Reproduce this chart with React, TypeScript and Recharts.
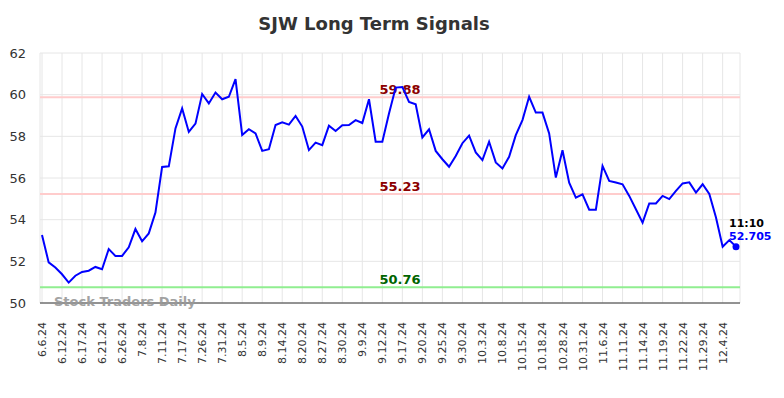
import React from "react";
import {
  LineChart,
  Line,
  XAxis,
  YAxis,
  CartesianGrid,
  ReferenceLine,
} from "recharts";

// trading dates (every third one is shown on the axis)
const dates = [
  "6.6.24", "6.7.24", "6.10.24", "6.12.24", "6.13.24", "6.14.24", "6.17.24", "6.18.24", "6.20.24",
  "6.21.24", "6.24.24", "6.25.24", "6.26.24", "7.1.24", "7.5.24", "7.8.24", "7.9.24", "7.10.24",
  "7.11.24", "7.12.24", "7.15.24", "7.17.24", "7.19.24", "7.23.24", "7.26.24", "7.29.24", "7.30.24",
  "7.31.24", "8.1.24", "8.2.24", "8.5.24", "8.6.24", "8.8.24", "8.9.24", "8.12.24", "8.13.24",
  "8.14.24", "8.15.24", "8.19.24", "8.20.24", "8.22.24", "8.26.24", "8.27.24", "8.28.24", "8.29.24",
  "8.30.24", "9.4.24", "9.6.24", "9.9.24", "9.10.24", "9.11.24", "9.12.24", "9.13.24", "9.16.24",
  "9.17.24", "9.18.24", "9.19.24", "9.20.24", "9.23.24", "9.24.24", "9.25.24", "9.26.24", "9.27.24",
  "9.30.24", "10.1.24", "10.2.24", "10.3.24", "10.4.24", "10.7.24", "10.8.24", "10.10.24", "10.11.24",
  "10.15.24", "10.16.24", "10.17.24", "10.18.24", "10.22.24", "10.25.24", "10.28.24", "10.29.24", "10.30.24",
  "10.31.24", "11.1.24", "11.4.24", "11.6.24", "11.7.24", "11.8.24", "11.11.24", "11.12.24", "11.13.24",
  "11.14.24", "11.15.24", "11.18.24", "11.19.24", "11.20.24", "11.21.24", "11.22.24", "11.25.24", "11.26.24",
  "11.29.24", "12.2.24", "12.3.24", "12.4.24", "12.5.24", "12.6.24",
];

const prices = [
  53.26, 51.95, 51.7, 51.38, 50.98, 51.31, 51.49, 51.55, 51.73,
  51.62, 52.59, 52.26, 52.26, 52.67, 53.55, 52.96, 53.34, 54.34,
  56.53, 56.56, 58.38, 59.34, 58.21, 58.61, 60.03, 59.58, 60.1,
  59.78, 59.9, 60.75, 58.06, 58.34, 58.14, 57.3, 57.38, 58.54,
  58.67, 58.56, 58.98, 58.47, 57.34, 57.7, 57.58, 58.51, 58.26,
  58.53, 58.54, 58.78, 58.64, 59.78, 57.74, 57.74, 59.1, 60.34,
  60.37, 59.65, 59.54, 57.95, 58.34, 57.3, 56.9, 56.54, 57.06,
  57.67, 58.03, 57.23, 56.86, 57.74, 56.75, 56.46, 57.02, 58.06,
  58.78, 59.9, 59.14, 59.14, 58.14, 56.02, 57.33, 55.78, 55.06,
  55.22, 54.48, 54.48, 56.58, 55.86, 55.78, 55.7, 55.14, 54.5,
  53.86, 54.78, 54.78, 55.14, 54.99, 55.38, 55.74, 55.79, 55.3,
  55.7, 55.23, 54.1, 52.7, 53.02, 52.705,
];

const tickDates = [
  "6.6.24", "6.12.24", "6.17.24", "6.21.24", "6.26.24", "7.8.24", "7.11.24", "7.17.24", "7.26.24",
  "7.31.24", "8.5.24", "8.9.24", "8.14.24", "8.20.24", "8.27.24", "8.30.24", "9.9.24", "9.12.24",
  "9.17.24", "9.20.24", "9.25.24", "9.30.24", "10.3.24", "10.8.24", "10.15.24", "10.18.24", "10.28.24",
  "10.31.24", "11.6.24", "11.11.24", "11.14.24", "11.19.24", "11.22.24", "11.29.24", "12.4.24",
];

const yTicks = [50, 52, 54, 56, 58, 60, 62];

const upperLevel = 59.88;
const middleLevel = 55.23;
const lowerLevel = 50.76;
const lastTime = "11:10";
const lastLabel = "52.705";

const data = dates.map((date, i) => ({ date, price: prices[i] }));

const FONT = "'DejaVu Sans', sans-serif";

function DateTick({ x, y, payload }: any) {
  const ty = y + 11;
  return (
    <text
      x={x}
      y={ty}
      transform={`rotate(-90, ${x}, ${ty})`}
      textAnchor="end"
      dy={4}
      fontSize={11}
      fill="#333"
      fontFamily={FONT}
    >
      {payload.value}
    </text>
  );
}

function levelLabel(value: string, color: string) {
  return ({ viewBox }: any) => (
    <text
      x={viewBox.x + 360}
      y={viewBox.y - 3}
      textAnchor="middle"
      fontSize={13}
      fontWeight="bold"
      fill={color}
      fontFamily={FONT}
    >
      {value}
    </text>
  );
}

function LastDot(props: any) {
  const { cx, cy, index } = props;
  if (index !== prices.length - 1) return <g key={index} />;
  return (
    <g key={index}>
      <circle cx={cx} cy={cy} r={3.5} fill="#0000ff" />
      <text x={cx - 7} y={cy - 20} fontSize={11} fontWeight="bold" fill="#000" fontFamily={FONT}>
        {lastTime}
      </text>
      <text x={cx - 7} y={cy - 7} fontSize={11} fontWeight="bold" fill="#0000ff" fontFamily={FONT}>
        {lastLabel}
      </text>
    </g>
  );
}

export default function App() {
  return (
    <div style={{ position: "absolute", left: 0, top: 0, width: 784, height: 398, fontFamily: FONT }}>
      <div
        style={{
          position: "absolute",
          left: 0,
          width: 748,
          top: 13,
          textAlign: "center",
          fontSize: 18,
          fontWeight: "bold",
          color: "#333",
        }}
      >
        SJW Long Term Signals
      </div>
      <LineChart
        width={784}
        height={398}
        data={data}
        margin={{ top: 53, right: 44, bottom: 0, left: 0 }}
      >
        <CartesianGrid stroke="#e6e6e6" strokeWidth={1} />
        <XAxis
          dataKey="date"
          ticks={tickDates}
          interval={0}
          height={95}
          padding={{ left: 2, right: 4 }}
          tick={<DateTick />}
          tickLine={false}
          axisLine={{ stroke: "#333", strokeWidth: 1 }}
        />
        <YAxis
          domain={[50, 62]}
          ticks={yTicks}
          width={40}
          axisLine={false}
          tickLine={false}
          tickMargin={8}
          tick={{ fill: "#333", fontSize: 13, fontFamily: FONT }}
        />
        <ReferenceLine y={upperLevel} stroke="#ffcccc" strokeWidth={2} label={levelLabel(upperLevel.toFixed(2), "#8b0000")} />
        <ReferenceLine y={middleLevel} stroke="#ffcccc" strokeWidth={2} label={levelLabel(middleLevel.toFixed(2), "#8b0000")} />
        <ReferenceLine y={lowerLevel} stroke="#90ee90" strokeWidth={2} label={levelLabel(lowerLevel.toFixed(2), "#006400")} />
        <Line
          type="linear"
          dataKey="price"
          stroke="#0000ff"
          strokeWidth={2}
          dot={<LastDot />}
          activeDot={false}
          isAnimationActive={false}
        />
      </LineChart>
      <div
        style={{
          position: "absolute",
          left: 54,
          top: 294,
          fontSize: 13,
          fontWeight: "bold",
          color: "#999",
          opacity: 0.9,
        }}
      >
        Stock Traders Daily
      </div>
    </div>
  );
}
